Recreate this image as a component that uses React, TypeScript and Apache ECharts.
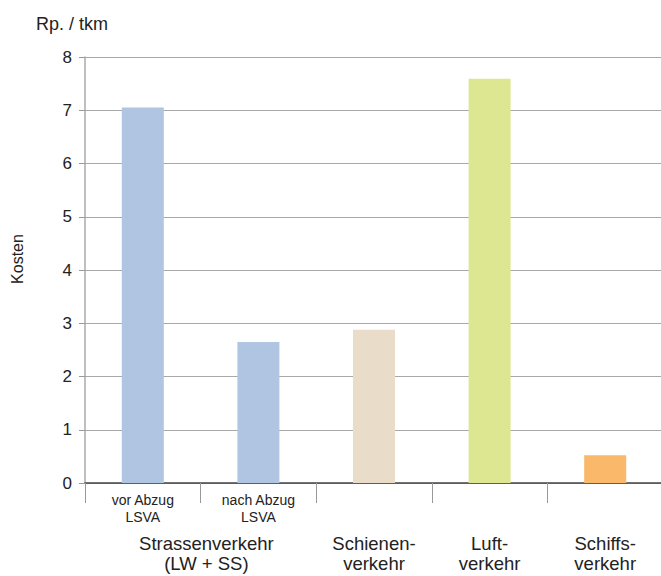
import React, { useEffect, useRef } from "react";
import * as echarts from "echarts";

const subCategories = ["vor Abzug\nLSVA", "nach Abzug\nLSVA", "", "", ""];
const costValues = [7.05, 2.65, 2.88, 7.59, 0.52];
const barColors = ["#b0c5e1", "#b0c5e1", "#e9dcc8", "#dde690", "#f9b86a"];
const groupLabels = ["Strassenverkehr\n(LW + SS)", "Schienen-\nverkehr", "Luft-\nverkehr", "Schiffs-\nverkehr"];
const groupPositions = [1.05, 2.5, 3.5, 4.5];
const yTicks = [0, 1, 2, 3, 4, 5, 6, 7, 8];

const FONT = "Liberation Sans, Arial, sans-serif";

export default function App() {
  const ref = useRef<HTMLDivElement>(null);
  useEffect(() => {
    if (!ref.current) return;
    const chart = echarts.init(ref.current, null, { renderer: "svg" });
    chart.setOption({
      animation: false,
      backgroundColor: "#ffffff",
      title: {
        text: "Rp. / tkm",
        left: 31,
        top: 10,
        textStyle: { fontFamily: FONT, fontSize: 18, fontWeight: "normal", color: "#222" },
      },
      graphic: [
        {
          type: "text",
          x: 17,
          y: 259,
          rotation: Math.PI / 2,
          style: {
            text: "Kosten",
            fontFamily: FONT,
            fontSize: 16,
            fill: "#222",
            align: "center",
            verticalAlign: "middle",
          },
        },
      ],
      grid: { left: 85, top: 57, height: 426, right: -2, outerBoundsMode: "none", containLabel: false },
      xAxis: [
        {
          type: "category",
          data: subCategories,
          boundaryGap: true,
          axisLine: { lineStyle: { color: "#444", width: 1.5 } },
          axisTick: { show: true, length: 20, lineStyle: { color: "#999" } },
          axisLabel: {
            interval: 0,
            margin: 8,
            fontFamily: FONT,
            fontSize: 14,
            lineHeight: 17,
            color: "#222",
          },
          splitLine: { show: false },
        },
        {
          type: "value",
          position: "bottom",
          min: 0,
          max: 5,
          interval: 0.05,
          axisLine: { show: false },
          axisTick: { show: false },
          splitLine: { show: false },
          axisLabel: {
            margin: 50,
            fontFamily: FONT,
            fontSize: 18.5,
            lineHeight: 20,
            color: "#222",
            formatter: (v: number) => {
              const i = groupPositions.findIndex((p) => Math.abs(p - v) < 1e-6);
              return i >= 0 ? groupLabels[i] : "";
            },
          },
        },
      ],
      yAxis: {
        type: "value",
        min: yTicks[0],
        max: yTicks[yTicks.length - 1],
        interval: 1,
        axisLine: { show: true, lineStyle: { color: "#aaa", width: 1.5 } },
        axisTick: { show: true, length: 6, lineStyle: { color: "#999" } },
        axisLabel: { margin: 13, fontFamily: FONT, fontSize: 17, color: "#222" },
        splitLine: { lineStyle: { color: "#a8a8a8", width: 1 } },
      },
      series: [
        {
          type: "bar",
          xAxisIndex: 0,
          barWidth: 42,
          data: costValues.map((v, i) => ({ value: v, itemStyle: { color: barColors[i] } })),
        },
      ],
    });
    return () => chart.dispose();
  }, []);
  return <div ref={ref} style={{ position: "fixed", left: 0, top: 0, width: 661, height: 576 }} />;
}
